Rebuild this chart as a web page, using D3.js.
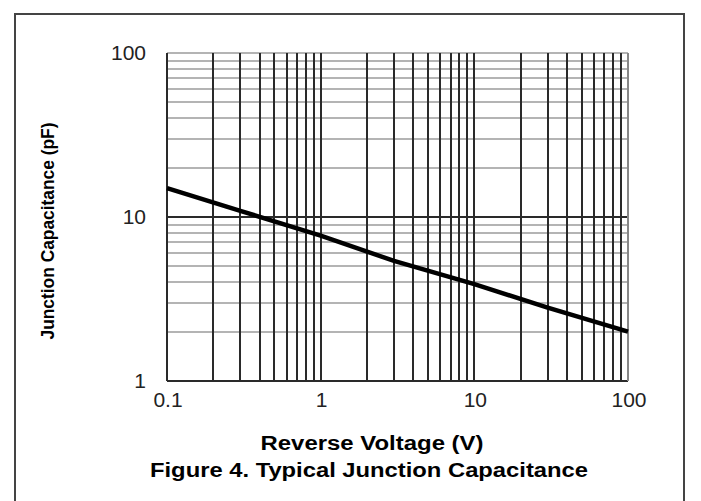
<!DOCTYPE html>
<html><head><meta charset="utf-8">
<script src="https://cdn.jsdelivr.net/npm/d3@7"></script>
<style>body{margin:0;background:#fff}svg{display:block}</style>
</head><body><svg id="c" width="701" height="501"></svg>
<script>
const voltage = [0.1, 0.3, 1, 3, 10, 30, 100];
const capacitance = [15, 10.9, 7.7, 5.4, 3.9, 2.8, 2.0];
const xTicks = [0.1, 1, 10, 100];
const xTickLabels = ["0.1", "1", "10", "100"];
const yTicks = [1, 10, 100];
const yTickLabels = ["1", "10", "100"];
const xTitle = "Reverse Voltage (V)";
const yTitle = "Junction Capacitance (pF)";
const figTitle = "Figure 4. Typical Junction Capacitance";

const svg = d3.select("#c");
const L = 167, R = 628, T = 53, B = 381;
const x = d3.scaleLog().domain([0.1, 100]).range([L, R]);
const y = d3.scaleLog().domain([1, 100]).range([B, T]);

// outer frame (open at bottom)
svg.append("path").attr("d", "M15,501V14H684V501").attr("fill", "none")
  .attr("stroke", "#444").attr("stroke-width", 2);

const minorX = [], minorY = [];
[0.1, 1, 10].forEach(d => { for (let k = 1; k <= 9; k++) minorX.push(d * k); });
minorX.push(100);
[1, 10].forEach(d => { for (let k = 1; k <= 9; k++) minorY.push(d * k); });
minorY.push(100);

const g = svg.append("g");
g.selectAll("line.h").data(minorY).join("line")
  .attr("x1", L).attr("x2", R)
  .attr("y1", d => Math.round(y(d))).attr("y2", d => Math.round(y(d)))
  .attr("stroke", d => (d === 1 || d === 10) ? "#2a2a2a" : "#b4b4b4")
  .attr("stroke-width", 2);
g.selectAll("line.v").data(minorX).join("line")
  .attr("y1", T).attr("y2", B)
  .attr("x1", d => Math.round(x(d))).attr("x2", d => Math.round(x(d)))
  .attr("stroke", d => d === 100 ? "#888" : "#2a2a2a")
  .attr("stroke-width", 2);

const line = d3.line().x((d, i) => x(voltage[i])).y((d, i) => y(capacitance[i]));
svg.append("path").datum(capacitance).attr("d", line)
  .attr("fill", "none").attr("stroke", "#000").attr("stroke-width", 4.5);

const font = "Liberation Sans, Arial, sans-serif";
svg.selectAll("text.xt").data(xTicks).join("text")
  .attr("x", d => x(d) + 1).attr("y", 407).attr("text-anchor", "middle")
  .attr("font-family", font).attr("font-size", 21).attr("fill", "#222")
  .text((d, i) => xTickLabels[i]);
svg.selectAll("text.yt").data(yTicks).join("text")
  .attr("x", 146).attr("y", d => y(d) + 7).attr("text-anchor", "end")
  .attr("font-family", font).attr("font-size", 21).attr("fill", "#222")
  .text((d, i) => yTickLabels[i]);

svg.append("text").attr("x", 372).attr("y", 450).attr("text-anchor", "middle")
  .attr("font-family", font).attr("font-size", 20).attr("font-weight", "bold")
  .attr("fill", "#000").attr("textLength", 223).attr("lengthAdjust", "spacingAndGlyphs")
  .text(xTitle);
svg.append("text").attr("x", 369).attr("y", 477).attr("text-anchor", "middle")
  .attr("font-family", font).attr("font-size", 20).attr("font-weight", "bold")
  .attr("fill", "#000").attr("textLength", 438).attr("lengthAdjust", "spacingAndGlyphs")
  .text(figTitle);
svg.append("text").attr("transform", "translate(54,231) rotate(-90)")
  .attr("text-anchor", "middle")
  .attr("font-family", font).attr("font-size", 19).attr("font-weight", "bold")
  .attr("fill", "#000").attr("textLength", 217).attr("lengthAdjust", "spacingAndGlyphs")
  .text(yTitle);
</script></body></html>
